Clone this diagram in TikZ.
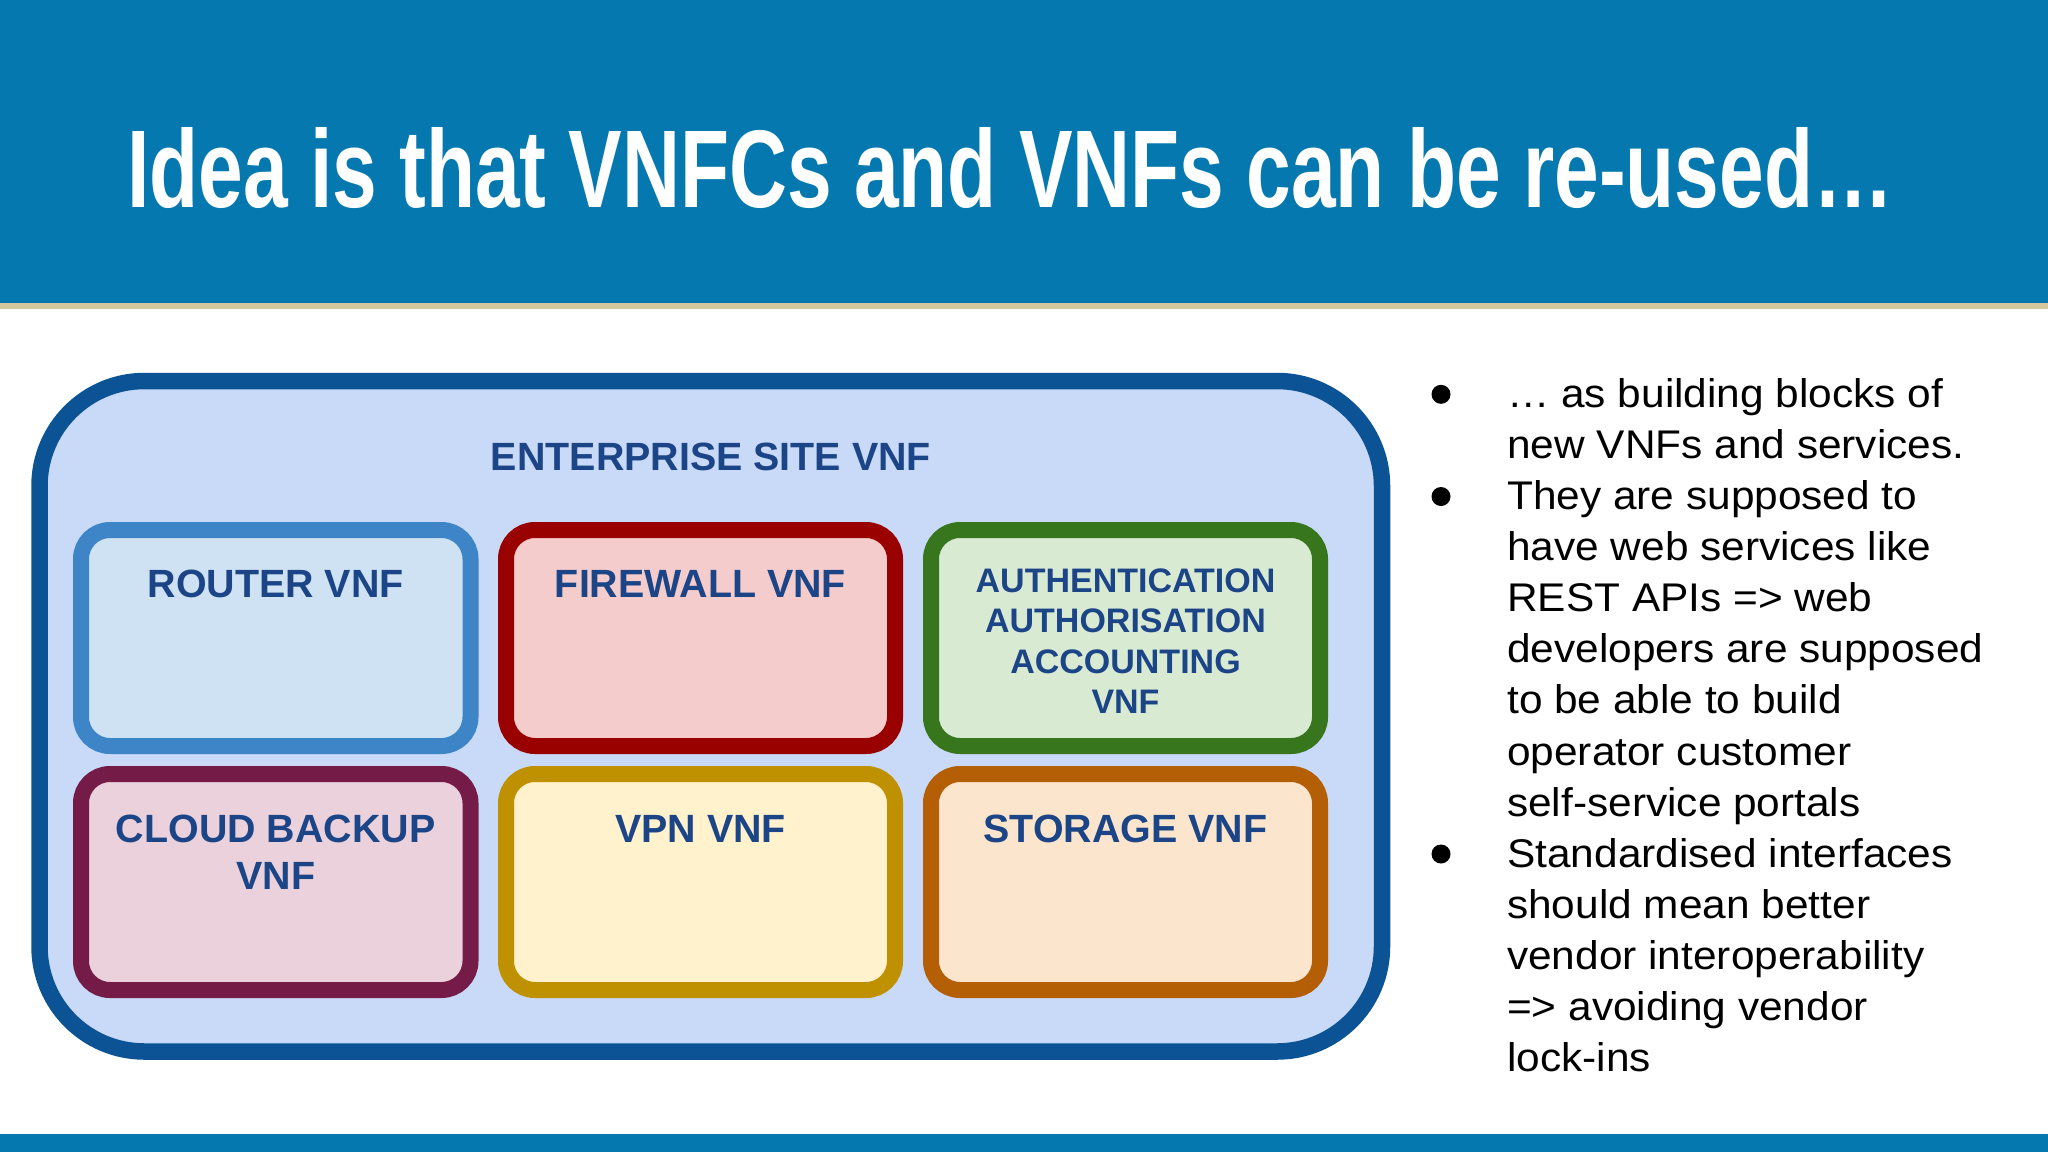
\documentclass[tikz,border=0pt]{standalone}
\usepackage{fontspec}
\usepackage{graphicx}
\setmainfont{Liberation Sans}
\newfontfamily\bodyfont[FakeStretch=1.06]{Liberation Sans}
\definecolor{hdrblue}{RGB}{5,121,175}
\definecolor{goldline}{RGB}{214,200,156}
\definecolor{outerfill}{HTML}{C9DAF8}
\definecolor{outerdraw}{HTML}{0B5394}
\definecolor{labelblue}{HTML}{1C4587}
\definecolor{routerdraw}{HTML}{3D85C6}
\definecolor{routerfill}{HTML}{CFE2F3}
\definecolor{firedraw}{HTML}{990000}
\definecolor{firefill}{HTML}{F4CCCC}
\definecolor{aaadraw}{HTML}{38761D}
\definecolor{aaafill}{HTML}{D9EAD3}
\definecolor{clouddraw}{HTML}{741B47}
\definecolor{cloudfill}{HTML}{EAD1DC}
\definecolor{vpndraw}{HTML}{BF9000}
\definecolor{vpnfill}{HTML}{FFF2CC}
\definecolor{storedraw}{HTML}{B45F06}
\definecolor{storefill}{HTML}{FCE5CD}
\tikzset{
  vnfbox/.style={line width=16pt, rounded corners=29pt},
  boxlabel/.style={anchor=base, inner sep=0pt, text=labelblue,
    font=\fontsize{39.4}{47}\selectfont\bfseries},
  aaalabel/.style={anchor=base, inner sep=0pt, text=labelblue,
    font=\fontsize{34}{40.5}\selectfont\bfseries},
  bodyline/.style={anchor=base west, inner sep=0pt, text=black,
    font=\bodyfont\fontsize{40}{51}\selectfont},
  bulletdot/.style={circle, fill=black, minimum size=19pt, inner sep=0pt}
}
\begin{document}
\begin{tikzpicture}[x=1pt,y=-1pt]
\useasboundingbox (0,0) rectangle (2048,1152);
\fill[white] (0,0) rectangle (2048,1152);
% header
\fill[hdrblue] (0,0) rectangle (2048,303);
\fill[goldline] (0,303) rectangle (2048,309);
\fill[hdrblue] (0,1134) rectangle (2048,1152);
\node[anchor=base west, inner sep=0pt, text=white] (title) at (127,207)
  {\resizebox{1766pt}{80pt}{\bfseries Idea is that VNFCs and VNFs can be re-used…}};
% outer box
\draw[line width=16.5pt, draw=outerdraw, fill=outerfill, rounded corners=105pt]
  (39.5,381) rectangle (1382,1051.5);
\node[boxlabel] (ent) at (711,470) {ENTERPRISE SITE VNF};
% inner boxes
\draw[vnfbox, draw=routerdraw, fill=routerfill] (81,530) rectangle (470.5,746);
\draw[vnfbox, draw=firedraw, fill=firefill] (506,530) rectangle (895,746);
\draw[vnfbox, draw=aaadraw, fill=aaafill] (931,530) rectangle (1320,746);
\draw[vnfbox, draw=clouddraw, fill=cloudfill] (81,774) rectangle (470.5,990);
\draw[vnfbox, draw=vpndraw, fill=vpnfill] (506,774) rectangle (895,990);
\draw[vnfbox, draw=storedraw, fill=storefill] (931,774) rectangle (1320,990);
% labels
\node[boxlabel] (router) at (275.75,597) {ROUTER VNF};
\node[boxlabel] (firewall) at (700.5,597) {FIREWALL VNF};
\node[aaalabel] (aaa1) at (1125.5,592) {AUTHENTICATION};
\node[aaalabel] (aaa2) at (1125.5,632.5) {AUTHORISATION};
\node[aaalabel] (aaa3) at (1125.5,673) {ACCOUNTING};
\node[aaalabel] (aaa4) at (1125.5,713.5) {VNF};
\node[boxlabel] (cloud1) at (275.75,842) {CLOUD BACKUP};
\node[boxlabel] (cloud2) at (275.75,889) {VNF};
\node[boxlabel] (vpn) at (700.5,842) {VPN VNF};
\node[boxlabel] (storage) at (1125.5,842) {STORAGE VNF};
% bullets
\node[bulletdot] (b1) at (1441,394.3) {};
\node[bulletdot] (b2) at (1441,496.5) {};
\node[bulletdot] (b3) at (1441,854) {};
\foreach \t [count=\i] in {
  {… as building blocks of},
  {new VNFs and services.},
  {They are supposed to},
  {have web services like},
  {REST APIs => web},
  {developers are supposed},
  {to be able to build},
  {operator customer},
  {self-service portals},
  {Standardised interfaces},
  {should mean better},
  {vendor interoperability},
  {=> avoiding vendor},
  {lock-ins}}
  \node[bodyline] (l\i) at (1507,{407.3+(\i-1)*51.1}) {\t};
\end{tikzpicture}
\end{document}
